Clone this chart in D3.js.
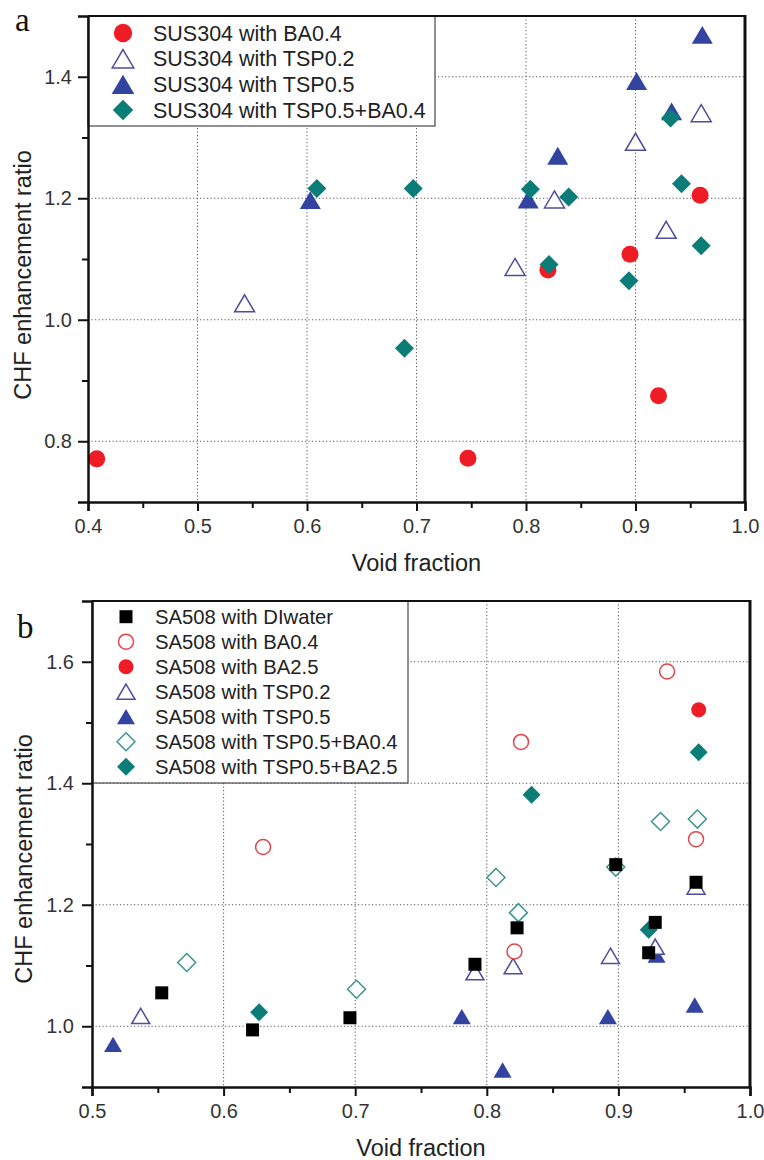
<!DOCTYPE html>
<html>
<head>
<meta charset="utf-8">
<script src="https://cdn.jsdelivr.net/npm/d3@7"></script>
<style>
  body { margin: 0; background: #fff; }
  svg text { font-family: "Liberation Sans", Arial, sans-serif; }
</style>
</head>
<body>
<svg id="chart" width="764" height="1160"></svg>
<script>
// Panel a: SUS304 heater, [void fraction, CHF enhancement ratio]
const aBA04 = [[0.408, 0.771], [0.747, 0.772], [0.820, 1.082], [0.895, 1.108], [0.921, 0.875], [0.959, 1.205]];
const aTSP02 = [[0.543, 1.027], [0.790, 1.087], [0.826, 1.198], [0.900, 1.293], [0.928, 1.148], [0.960, 1.340]];
const aTSP05 = [[0.603, 1.197], [0.802, 1.198], [0.829, 1.270], [0.901, 1.393], [0.933, 1.343], [0.961, 1.469]];
const aTSP05BA04 = [[0.609, 1.216], [0.689, 0.953], [0.697, 1.216], [0.804, 1.215], [0.821, 1.091],
  [0.839, 1.202], [0.894, 1.064], [0.932, 1.332], [0.942, 1.224], [0.960, 1.122]];

// Panel b: SA508 heater
const bDI = [[0.553, 1.055], [0.622, 0.994], [0.696, 1.014], [0.791, 1.102], [0.823, 1.162],
  [0.898, 1.266], [0.923, 1.121], [0.928, 1.171], [0.959, 1.237]];
const bBA04 = [[0.630, 1.295], [0.821, 1.123], [0.826, 1.468], [0.937, 1.584], [0.959, 1.308]];
const bBA25 = [[0.961, 1.521]];
const bTSP02 = [[0.537, 1.017], [0.791, 1.089], [0.820, 1.099], [0.894, 1.116], [0.928, 1.131], [0.959, 1.230]];
const bTSP05 = [[0.516, 0.970], [0.781, 1.016], [0.812, 0.928], [0.892, 1.016], [0.929, 1.117], [0.958, 1.035]];
const bTSP05BA04 = [[0.572, 1.105], [0.701, 1.061], [0.807, 1.245], [0.824, 1.187], [0.898, 1.262],
  [0.932, 1.337], [0.960, 1.341]];
const bTSP05BA25 = [[0.627, 1.023], [0.834, 1.381], [0.923, 1.159], [0.961, 1.451]];

// Tick values
const xTicksA = [0.4, 0.5, 0.6, 0.7, 0.8, 0.9, 1.0];
const xMinorA = [0.45, 0.55, 0.65, 0.75, 0.85, 0.95];
const yTicksA = [0.8, 1.0, 1.2, 1.4];
const yMinorA = [0.9, 1.1, 1.3];
const xTicksB = [0.5, 0.6, 0.7, 0.8, 0.9, 1.0];
const xMinorB = [0.55, 0.65, 0.75, 0.85, 0.95];
const yTicksB = [1.0, 1.2, 1.4, 1.6];
const yMinorB = [1.1, 1.3, 1.5];

const RED = '#ee1c25', BLUE = '#3343a0', NAVY = '#4d4d9c', TEAL = '#0b7d78';

const svg = d3.select('#chart');

// marker path, centred on its bounding box
function shapePath(shape, size) {
  const p = d3.path();
  const r = size / 2;
  if (shape === 'circle') {
    p.moveTo(r, 0);
    p.arc(0, 0, r, 0, 2 * Math.PI);
  } else if (shape === 'square') {
    p.rect(-r, -r, size, size);
  } else if (shape === 'triangle') {
    const h = size * 0.85;
    p.moveTo(0, -h / 2);
    p.lineTo(r, h / 2);
    p.lineTo(-r, h / 2);
    p.closePath();
  } else {
    p.moveTo(0, -r);
    p.lineTo(r, 0);
    p.lineTo(0, r);
    p.lineTo(-r, 0);
    p.closePath();
  }
  return p.toString();
}

function styleMarker(sel, s, scale = 1) {
  sel.attr('d', shapePath(s.shape, s.size * scale))
    .attr('fill', s.open ? '#fff' : s.color)
    .attr('stroke', s.color)
    .attr('stroke-width', s.open ? 1.5 : 0);
}

function drawPanel(cfg) {
  const x = d3.scaleLinear().domain(cfg.xDomain).range([cfg.left, cfg.right]);
  const y = d3.scaleLinear().domain(cfg.yDomain).range([cfg.bottom, cfg.top]);
  const g = svg.append('g');

  // dotted grid
  g.append('g').selectAll('line').data(cfg.xGrid).join('line')
    .attr('x1', d => x(d)).attr('x2', d => x(d))
    .attr('y1', cfg.top).attr('y2', cfg.bottom)
    .attr('stroke', '#555').attr('stroke-width', 1).attr('stroke-dasharray', '1.2,2.3');
  g.append('g').selectAll('line').data(cfg.yGrid).join('line')
    .attr('x1', cfg.left).attr('x2', cfg.right)
    .attr('y1', d => y(d)).attr('y2', d => y(d))
    .attr('stroke', '#555').attr('stroke-width', 1).attr('stroke-dasharray', '1.2,2.3');

  // legend box (hides the grid behind it)
  const lg = cfg.legend;
  g.append('rect')
    .attr('x', cfg.left).attr('y', cfg.top)
    .attr('width', lg.right - cfg.left).attr('height', lg.bottom - cfg.top)
    .attr('fill', '#fff').attr('stroke', '#555').attr('stroke-width', 1.3);

  // data points
  cfg.drawOrder.forEach(i => {
    const s = cfg.series[i];
    g.append('g').selectAll('path').data(s.data).join('path')
      .call(styleMarker, s)
      .attr('transform', d => `translate(${x(d[0])},${y(d[1])})`);
  });

  // frame: top and right
  g.append('line').attr('x1', cfg.left).attr('x2', cfg.right)
    .attr('y1', cfg.top).attr('y2', cfg.top).attr('stroke', '#111').attr('stroke-width', 2);
  g.append('line').attr('x1', cfg.right).attr('x2', cfg.right)
    .attr('y1', cfg.top - 1).attr('y2', cfg.bottom).attr('stroke', '#111').attr('stroke-width', 3);

  // axes
  const fmt = d3.format('.1f');
  const xAxis = g.append('g').attr('transform', `translate(0,${cfg.bottom})`)
    .call(d3.axisBottom(x).tickValues(cfg.xTicks).tickSize(9).tickPadding(8).tickFormat(fmt));
  g.append('g').attr('transform', `translate(0,${cfg.bottom})`)
    .call(d3.axisBottom(x).tickValues(cfg.xMinor).tickSize(6).tickFormat(''))
    .call(a => a.select('.domain').remove());
  const yAxis = g.append('g').attr('transform', `translate(${cfg.left},0)`)
    .call(d3.axisLeft(y).tickValues(cfg.yTicks).tickSize(10).tickPadding(cfg.yPad).tickFormat(fmt));
  g.append('g').attr('transform', `translate(${cfg.left},0)`)
    .call(d3.axisLeft(y).tickValues(cfg.yMinor).tickSize(6).tickFormat(''))
    .call(a => a.select('.domain').remove());

  g.selectAll('.domain').attr('stroke', '#111').attr('stroke-width', 2.5);
  g.selectAll('.tick line').attr('stroke', '#111').attr('stroke-width', 2);
  [xAxis, yAxis].forEach(a => a.selectAll('.tick text')
    .attr('fill', '#333').style('font-size', '20px')
    .style('font-family', '"Liberation Sans", Arial, sans-serif'));

  // axis titles
  g.append('text')
    .attr('x', (cfg.left + cfg.right) / 2).attr('y', cfg.bottom + 69)
    .attr('text-anchor', 'middle').attr('fill', '#222').style('font-size', '23.5px')
    .text('Void fraction');
  g.append('text')
    .attr('transform', `translate(${cfg.yTitleX},${cfg.yTitleY}) rotate(-90)`)
    .attr('text-anchor', 'middle').attr('fill', '#222').style('font-size', '23.5px')
    .text('CHF enhancement ratio');

  // panel letter
  g.append('text')
    .attr('x', cfg.letterX).attr('y', cfg.letterY)
    .attr('fill', '#111').style('font-family', '"Liberation Serif", "Times New Roman", serif')
    .style('font-size', '33px')
    .text(cfg.letter);

  // legend entries
  cfg.series.forEach((s, i) => {
    const ly = lg.firstY + i * lg.step;
    g.append('path').call(styleMarker, s, lg.markerScale)
      .attr('transform', `translate(${lg.markerX},${ly})`);
    g.append('text')
      .attr('x', lg.textX).attr('y', ly).attr('dy', '0.36em')
      .attr('fill', '#222').style('font-size', lg.fontSize)
      .text(s.name);
  });
}

drawPanel({
  letter: 'a', letterX: 15, letterY: 31,
  left: 88, right: 745, top: 16, bottom: 502,
  xDomain: [0.4, 1.0], yDomain: [0.7, 1.5],
  xTicks: xTicksA, xMinor: xMinorA, yTicks: yTicksA, yMinor: yMinorA,
  xGrid: [0.5, 0.6, 0.7, 0.8, 0.9], yGrid: [0.8, 1.0, 1.2, 1.4],
  yPad: 6, yTitleX: 31, yTitleY: 275,
  legend: { right: 435, bottom: 126, markerX: 123, textX: 153, firstY: 33, step: 25.7,
    fontSize: '21.5px', markerScale: 1.08 },
  drawOrder: [0, 1, 2, 3],
  series: [
    { name: 'SUS304 with BA0.4', data: aBA04, shape: 'circle', size: 17, color: RED },
    { name: 'SUS304 with TSP0.2', data: aTSP02, shape: 'triangle', size: 20, color: NAVY, open: true },
    { name: 'SUS304 with TSP0.5', data: aTSP05, shape: 'triangle', size: 21, color: BLUE },
    { name: 'SUS304 with TSP0.5+BA0.4', data: aTSP05BA04, shape: 'diamond', size: 19, color: TEAL }
  ]
});

drawPanel({
  letter: 'b', letterX: 17, letterY: 638,
  left: 92, right: 750, top: 601, bottom: 1087,
  xDomain: [0.5, 1.0], yDomain: [0.9, 1.7],
  xTicks: xTicksB, xMinor: xMinorB, yTicks: yTicksB, yMinor: yMinorB,
  xGrid: [0.6, 0.7, 0.8, 0.9], yGrid: [1.0, 1.2, 1.4, 1.6],
  yPad: 8, yTitleX: 32, yTitleY: 859,
  legend: { right: 408, bottom: 783, markerX: 126, textX: 155, firstY: 616.7, step: 25,
    fontSize: '20.3px', markerScale: 1 },
  drawOrder: [6, 5, 4, 3, 2, 1, 0],
  series: [
    { name: 'SA508 with DIwater', data: bDI, shape: 'square', size: 13, color: '#000' },
    { name: 'SA508 with BA0.4', data: bBA04, shape: 'circle', size: 15, color: '#e2464b', open: true },
    { name: 'SA508 with BA2.5', data: bBA25, shape: 'circle', size: 15, color: RED },
    { name: 'SA508 with TSP0.2', data: bTSP02, shape: 'triangle', size: 18, color: NAVY, open: true },
    { name: 'SA508 with TSP0.5', data: bTSP05, shape: 'triangle', size: 18, color: BLUE },
    { name: 'SA508 with TSP0.5+BA0.4', data: bTSP05BA04, shape: 'diamond', size: 18, color: '#3e948f', open: true },
    { name: 'SA508 with TSP0.5+BA2.5', data: bTSP05BA25, shape: 'diamond', size: 18, color: TEAL }
  ]
});
</script>
</body>
</html>
